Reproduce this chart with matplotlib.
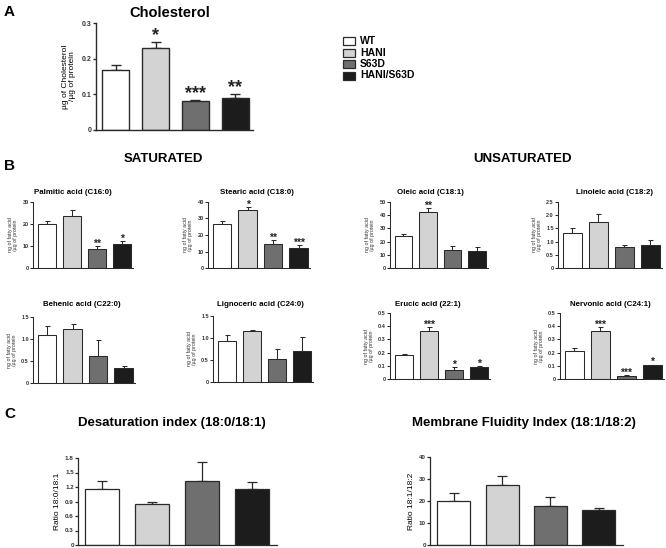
import numpy as np
import matplotlib
matplotlib.use("Agg")
import matplotlib.pyplot as plt
from matplotlib.patches import Rectangle

plt.rcParams["font.family"] = ["Liberation Sans", "DejaVu Sans"]
plt.rcParams["font.weight"] = "bold"

groups = ["WT", "HANI", "S63D", "HANI/S63D"]
colors = ["#ffffff", "#d3d3d3", "#6f6f6f", "#1c1c1c"]
EDGE = "#2a2a2a"

chol_mean = [0.168, 0.231, 0.080, 0.091]
chol_err = [0.015, 0.015, 0.004, 0.011]
chol_stars = ["", "*", "***", "**"]

palmitic_mean = [19.8, 23.7, 8.7, 10.9]
palmitic_err = [1.5, 2.7, 1.2, 1.4]
palmitic_stars = ["", "", "**", "*"]

stearic_mean = [26.7, 35.2, 14.8, 12.2]
stearic_err = [1.6, 1.8, 2.0, 1.8]
stearic_stars = ["", "*", "**", "***"]

oleic_mean = [24.3, 42.3, 13.6, 12.9]
oleic_err = [1.8, 2.8, 3.0, 2.8]
oleic_stars = ["", "**", "", ""]

linoleic_mean = [1.32, 1.73, 0.78, 0.88]
linoleic_err = [0.18, 0.33, 0.11, 0.18]

behenic_mean = [1.09, 1.23, 0.62, 0.34]
behenic_err = [0.21, 0.12, 0.35, 0.05]

lignoceric_mean = [0.93, 1.15, 0.52, 0.70]
lignoceric_err = [0.13, 0.03, 0.22, 0.33]

erucic_mean = [0.180, 0.365, 0.068, 0.088]
erucic_err = [0.010, 0.030, 0.025, 0.010]
erucic_stars = ["", "***", "*", "*"]

nervonic_mean = [0.215, 0.360, 0.025, 0.105]
nervonic_err = [0.018, 0.032, 0.004, 0.004]
nervonic_stars = ["", "***", "***", "*"]

desat_mean = [1.15, 0.85, 1.33, 1.15]
desat_err = [0.17, 0.05, 0.39, 0.15]

fluid_mean = [20.2, 27.3, 17.9, 15.9]
fluid_err = [3.6, 3.9, 3.7, 0.9]

ticks_chol = [0, 0.1, 0.2, 0.3]
labels_chol = ["0", "0.1", "0.2", "0.3"]
ticks_30 = [0, 10, 20, 30]
ticks_40 = [0, 10, 20, 30, 40]
ticks_50 = [0, 10, 20, 30, 40, 50]
ticks_25 = [0, 0.5, 1.0, 1.5, 2.0, 2.5]
labels_25 = ["0", "0.5", "1.0", "1.5", "2.0", "2.5"]
ticks_15 = [0, 0.5, 1.0, 1.5]
labels_15 = ["0", "0.5", "1.0", "1.5"]
ticks_05 = [0, 0.1, 0.2, 0.3, 0.4, 0.5]
labels_05 = ["0", "0.1", "0.2", "0.3", "0.4", "0.5"]
ticks_18 = [0, 0.3, 0.6, 0.9, 1.2, 1.5, 1.8]
labels_18 = ["0", "0.3", "0.6", "0.9", "1.2", "1.5", "1.8"]

W, H = 666, 548
fig = plt.figure(figsize=(W / 100, H / 100), dpi=100)


def px_axes(l, t, r, b):
    return fig.add_axes([l / W, 1 - b / H, (r - l) / W, (b - t) / H])


def ftext(x, y, s, **kw):
    fig.text(x / W, 1 - y / H, s, **kw)


def bar_panel(ax, means, errs, ticks, labels, stars=None, lw=0.8, width=0.7,
              tick_fs=4, star_fs=7, cap=2.0, star_pad=0.0):
    x = np.arange(len(means))
    ax.errorbar(x, means, yerr=[np.zeros(len(errs)), errs], fmt="none",
                ecolor=EDGE, elinewidth=lw, capsize=cap, capthick=lw, zorder=1)
    ax.bar(x, means, width=width, color=colors, edgecolor=EDGE, linewidth=lw, zorder=2)
    ax.set_xlim(-0.55, 3.45)
    ax.set_ylim(ticks[0], ticks[-1])
    ax.set_yticks(ticks)
    ax.set_yticklabels(labels, fontsize=tick_fs, color="#333333")
    ax.set_xticks([])
    for s in ["top", "right"]:
        ax.spines[s].set_visible(False)
    for s in ["left", "bottom"]:
        ax.spines[s].set_linewidth(lw)
        ax.spines[s].set_color(EDGE)
    ax.tick_params(axis="y", length=2, width=lw, pad=1, color=EDGE)
    ax.patch.set_alpha(0)
    if stars:
        top = ticks[-1]
        for xi, m, e, s in zip(x, means, errs, stars):
            if s:
                ax.text(xi, m + e + top * star_pad, s, ha="center", va="bottom",
                        fontsize=star_fs, color="#222222")


# ---- A: cholesterol
ftext(4, 12, "A", fontsize=11, va="center", ha="left")
ftext(170, 13, "Cholesterol", fontsize=10.5, ha="center", va="center")
ax = px_axes(96, 23, 253, 130)
bar_panel(ax, chol_mean, chol_err, ticks_chol, labels_chol, chol_stars, lw=1.0,
          width=0.68, tick_fs=5, star_fs=13, cap=3.5, star_pad=-0.02)
ax.set_xlim(-0.5, 3.45)
ax.set_ylabel("µg of Cholesterol\n/µg of protein", fontsize=6, labelpad=4, linespacing=1.1)

for i, (g, c) in enumerate(zip(groups, colors)):
    y = 41 + i * 11.5
    fig.add_artist(Rectangle((343 / W, 1 - (y + 4) / H), 12 / W, 8 / H, transform=fig.transFigure,
                             facecolor=c, edgecolor=EDGE, linewidth=0.9))
    ftext(360, y, g, fontsize=7.5, va="center", ha="left")

# ---- B
ftext(4, 166, "B", fontsize=11, va="center", ha="left")
ftext(163, 159, "SATURATED", fontsize=9.5, ha="center", va="center")
ftext(523, 159, "UNSATURATED", fontsize=9.5, ha="center", va="center")

small = [
    ((33, 202, 133, 268), (73, 193), "Palmitic acid (C16:0)", palmitic_mean, palmitic_err, ticks_30, [str(t) for t in ticks_30], palmitic_stars),
    ((208, 202, 310, 268), (257, 193), "Stearic acid (C18:0)", stearic_mean, stearic_err, ticks_40, [str(t) for t in ticks_40], stearic_stars),
    ((390, 202, 488, 268), (430, 192), "Oleic acid (C18:1)", oleic_mean, oleic_err, ticks_50, [str(t) for t in ticks_50], oleic_stars),
    ((558, 202, 662, 268), (615, 192), "Linoleic acid (C18:2)", linoleic_mean, linoleic_err, ticks_25, labels_25, None),
    ((33, 317, 135, 383), (82, 305), "Behenic acid (C22:0)", behenic_mean, behenic_err, ticks_15, labels_15, None),
    ((213, 316, 313, 382), (260, 305), "Lignoceric acid (C24:0)", lignoceric_mean, lignoceric_err, ticks_15, labels_15, None),
    ((390, 313, 490, 379), (428, 304), "Erucic acid (22:1)", erucic_mean, erucic_err, ticks_05, labels_05, erucic_stars),
    ((560, 313, 664, 379), (610, 304), "Nervonic acid (C24:1)", nervonic_mean, nervonic_err, ticks_05, labels_05, nervonic_stars),
]
for rect, tpos, title, m, e, tk, tl, st in small:
    ax = px_axes(*rect)
    bar_panel(ax, m, e, tk, tl, st, lw=0.75, width=0.72, tick_fs=4, star_fs=7.5,
              cap=1.8, star_pad=-0.04)
    ax.set_ylabel("ng of fatty acid\n/µg of protein", fontsize=3.8, labelpad=3,
                  linespacing=1.0, fontweight="normal", color="#333333")
    ftext(tpos[0], tpos[1], title, fontsize=5.7, ha="center", va="center")

# ---- C
ftext(4, 414, "C", fontsize=11, va="center", ha="left")
ftext(172, 423, "Desaturation index (18:0/18:1)", fontsize=9.5, ha="center", va="center")
ftext(524, 423, "Membrane Fluidity Index (18:1/18:2)", fontsize=9.5, ha="center", va="center")

ax = px_axes(78, 458, 277, 545)
bar_panel(ax, desat_mean, desat_err, ticks_18, labels_18, lw=0.9, width=0.68,
          tick_fs=4.5, cap=3.5)
ax.set_xlim(-0.49, 3.5)
ax.set_ylabel("Ratio 18:0/18:1", fontsize=6, labelpad=3)

ax = px_axes(430, 457, 623, 545)
bar_panel(ax, fluid_mean, fluid_err, ticks_40, [str(t) for t in ticks_40], lw=0.9,
          width=0.68, tick_fs=4.5, cap=3.5)
ax.set_xlim(-0.49, 3.5)
ax.set_ylabel("Ratio 18:1/18:2", fontsize=6, labelpad=3)

fig.savefig("out.png", dpi=100)
